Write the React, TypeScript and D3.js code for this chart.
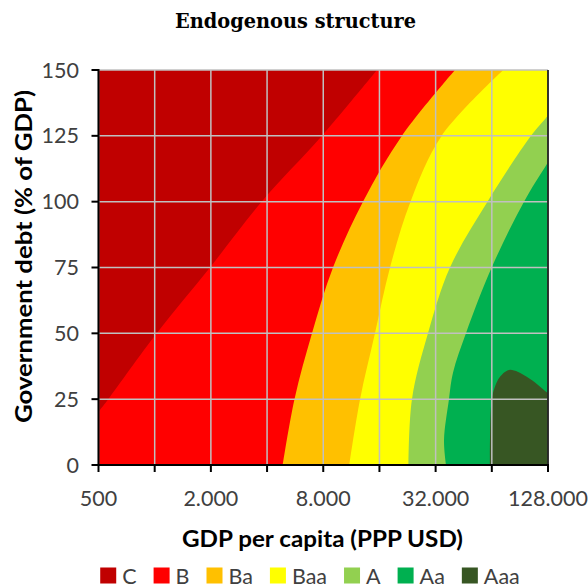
import React, { useEffect, useRef } from "react";
import * as d3 from "d3";

// ---- data ----
const ratings = ["C", "B", "Ba", "Baa", "A", "Aa", "Aaa"];
const ratingColors = ["#C00000", "#FF0000", "#FFC000", "#FFFF00", "#92D050", "#00B050", "#375623"];

const gdpTicks = [500, 1000, 2000, 4000, 8000, 16000, 32000, 64000, 128000];
const gdpLabelTicks = [500, 2000, 8000, 32000, 128000];
const gdpLabels = ["500", "2.000", "8.000", "32.000", "128.000"];
const debtTicks = [0, 25, 50, 75, 100, 125, 150];

// lower (left) boundary of each rating region: [GDP per capita, debt %]
const boundaryB = [[309, 0], [500, 20.2], [564, 25], [1025, 50], [1978, 75], [3743, 100], [7880, 125], [15520, 150]];
const boundaryBa = [[4850, 0], [5610, 25], [6964, 50], [9025, 75], [13060, 100], [21130, 125], [40640, 150]];
const boundaryBaa = [[11025, 0], [12600, 25], [15145, 50], [18230, 75], [23470, 100], [34500, 125], [73720, 150]];
const boundaryA = [[22900, 0], [23900, 25], [29120, 50], [38200, 75], [60670, 100], [103750, 125], [128000, 132.8], [187400, 150]];
const boundaryAa = [[36390, 0], [35490, 9.5], [37730, 25], [39650, 35], [46520, 50], [63900, 75], [95200, 100], [128000, 115], [261800, 150]];
// closed Aaa island
const islandAaa = [[62570, -5], [62570, 9.5], [63900, 24.7], [66530, 29.7], [70800, 33.5], [79390, 36.1], [98430, 33.5], [128400, 27.2], [157800, 22.8]];

const boundaries = [boundaryB, boundaryBa, boundaryBaa, boundaryA, boundaryAa];

export default function App() {
  const ref = useRef<SVGSVGElement>(null);

  useEffect(() => {
    const svg = d3.select(ref.current);
    svg.selectAll("*").remove();

    const left = 98.5, right = 548, top = 70, bottom = 465;
    const x = d3.scaleLog().base(2).domain([500, 128000]).range([left, right]);
    const y = d3.scaleLinear().domain([0, 150]).range([bottom, top]);

    svg.append("defs").append("clipPath").attr("id", "plotclip")
      .append("rect").attr("x", left).attr("y", top).attr("width", right - left).attr("height", bottom - top);

    const g = svg.append("g").attr("clip-path", "url(#plotclip)");
    g.append("rect").attr("x", left).attr("y", top).attr("width", right - left).attr("height", bottom - top)
      .attr("fill", ratingColors[0]);

    const line = d3.line<number[]>().x(d => x(d[0])).y(d => y(d[1])).curve(d3.curveCatmullRom.alpha(0.5));
    const farX = x(2000000);
    boundaries.forEach((b, i) => {
      const d = line(b) + `L${farX},${y(b[b.length - 1][1])}L${farX},${y(b[0][1])}Z`;
      g.append("path").attr("d", d).attr("fill", ratingColors[i + 1]);
    });
    const last = islandAaa[islandAaa.length - 1];
    g.append("path").attr("d", line(islandAaa) + `L${x(last[0])},${y(-5)}Z`).attr("fill", ratingColors[6]);

    // grid
    const grid = svg.append("g").attr("stroke", "#c0c0c0").attr("stroke-width", 1.5);
    gdpTicks.forEach(t => grid.append("line").attr("x1", x(t)).attr("x2", x(t)).attr("y1", top).attr("y2", bottom));
    debtTicks.forEach(t => grid.append("line").attr("x1", left).attr("x2", right).attr("y1", y(t)).attr("y2", y(t)));

    // axes
    const ax = svg.append("g").attr("stroke", "#000");
    ax.append("line").attr("x1", right).attr("x2", right).attr("y1", top).attr("y2", bottom).attr("stroke-width", 1.5);
    ax.append("line").attr("x1", left).attr("x2", left).attr("y1", top - 1).attr("y2", bottom + 1).attr("stroke-width", 2);
    ax.append("line").attr("x1", left - 1).attr("x2", right + 1).attr("y1", bottom).attr("y2", bottom).attr("stroke-width", 2);
    debtTicks.forEach(t => ax.append("line").attr("x1", left - 7).attr("x2", left).attr("y1", y(t)).attr("y2", y(t)).attr("stroke-width", 2));
    gdpTicks.forEach(t => ax.append("line").attr("x1", x(t)).attr("x2", x(t)).attr("y1", bottom).attr("y2", bottom + 7).attr("stroke-width", 2));

    const font = "Lato, 'Open Sans', sans-serif";
    // tick labels
    debtTicks.forEach(t => svg.append("text").attr("x", 79).attr("y", y(t)).attr("dy", "0.35em")
      .attr("text-anchor", "end").attr("font-family", font).attr("font-size", 21.5).attr("fill", "#404040").text(String(t)));
    gdpLabelTicks.forEach((t, i) => svg.append("text").attr("x", x(t)).attr("y", 506)
      .attr("text-anchor", "middle").attr("font-family", font).attr("font-size", 21.5).attr("fill", "#404040").text(gdpLabels[i]));

    // titles
    svg.append("text").attr("x", 295.5).attr("y", 28).attr("text-anchor", "middle")
      .attr("font-family", "'DejaVu Serif', serif").attr("font-weight", "bold").attr("font-size", 21)
      .attr("textLength", 241).attr("lengthAdjust", "spacingAndGlyphs").attr("fill", "#000").text("Endogenous structure");
    svg.append("text").attr("x", 322.5).attr("y", 546.5).attr("text-anchor", "middle")
      .attr("font-family", font).attr("font-weight", "bold").attr("font-size", 22)
      .attr("textLength", 281).attr("lengthAdjust", "spacingAndGlyphs").attr("fill", "#000").text("GDP per capita (PPP USD)");
    svg.append("text").attr("transform", "translate(32,256.5) rotate(-90)").attr("text-anchor", "middle")
      .attr("font-family", font).attr("font-weight", "bold").attr("font-size", 22)
      .attr("textLength", 333).attr("lengthAdjust", "spacingAndGlyphs").attr("fill", "#000").text("Government debt (% of GDP)");

    // legend
    const lg = svg.append("g");
    let cx = 0;
    const sq = 16, gapText = 6, gapItem = 17;
    ratings.forEach((r, i) => {
      lg.append("rect").attr("x", cx).attr("y", 567.5).attr("width", sq).attr("height", sq).attr("fill", ratingColors[i]);
      const t = lg.append("text").attr("x", cx + sq + gapText).attr("y", 583.5).attr("font-family", font)
        .attr("font-size", 21.5).attr("fill", "#404040").text(r);
      const w = (t.node() as SVGTextElement).getComputedTextLength();
      cx += sq + gapText + w + gapItem;
    });
    const total = cx - gapItem;
    lg.attr("transform", `translate(${310 - total / 2},0)`);
  }, []);

  return (
    <svg ref={ref} width={588} height={588} style={{ position: "absolute", left: 0, top: 0, background: "#fff" }} />
  );
}
